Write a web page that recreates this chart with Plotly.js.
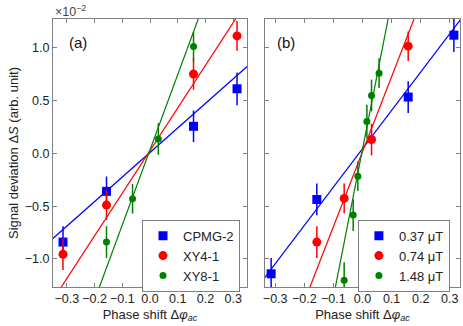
<!DOCTYPE html>
<html>
<head>
<meta charset="utf-8">
<script src="https://cdn.plot.ly/plotly-3.0.1.min.js"></script>
<style>
  html, body { margin: 0; padding: 0; background: #fff; }
  #plot { width: 463px; height: 326px; }
</style>
</head>
<body>
<div id="plot"></div>
<script>
  // panel (a): sequences
  const xCpmgA = [-0.314, -0.157, 0.157, 0.314];
  const yCpmgA = [-0.84, -0.36, 0.255, 0.61];
  const eCpmgA = [0.15, 0.14, 0.15, 0.155];
  const xXy4A = [-0.314, -0.157, 0.157, 0.314];
  const yXy4A = [-0.955, -0.49, 0.75, 1.11];
  const eXy4A = [0.15, 0.14, 0.15, 0.14];
  const xXy8A = [-0.157, -0.063, 0.03, 0.157];
  const yXy8A = [-0.84, -0.43, 0.135, 1.01];
  const eXy8A = [0.15, 0.14, 0.15, 0.14];

  // panel (a): fitted lines (end points)
  const fitCpmgX = [-0.36, 0.36], fitCpmgY = [-0.828, 0.843];
  const fitXy4X = [-0.33, 0.32], fitXy4Y = [-1.305, 1.315];
  const fitXy8X = [-0.19, 0.185], fitXy8Y = [-1.318, 1.348];

  // panel (b): field amplitudes
  const xB1 = [-0.314, -0.157, 0.157, 0.314];
  const yB1 = [-1.14, -0.437, 0.532, 1.117];
  const eB1 = [0.15, 0.15, 0.15, 0.16];
  const xB2 = [-0.157, -0.063, 0.031, 0.157];
  const yB2 = [-0.84, -0.427, 0.13, 1.013];
  const eB2 = [0.15, 0.14, 0.15, 0.14];
  const xB3 = [-0.063, -0.032, -0.016, 0.015, 0.031, 0.057];
  const yB3 = [-1.2, -0.585, -0.217, 0.30, 0.547, 0.758];
  const eB3 = [0.17, 0.15, 0.14, 0.16, 0.15, 0.14];

  const fitB1X = [-0.34, 0.34], fitB1Y = [-1.191, 1.277];
  const fitB2X = [-0.19, 0.19], fitB2Y = [-1.332, 1.362];
  const fitB3X = [-0.095, 0.095], fitB3Y = [-1.292, 1.368];

  const namesA = ['CPMG-2', 'XY4-1', 'XY8-1'];
  const namesB = ['0.37 μT', '0.74 μT', '1.48 μT'];
  const xTicks = [-0.3, -0.2, -0.1, 0.0, 0.1, 0.2, 0.3];
  const yTicks = [-1.0, -0.5, 0.0, 0.5, 1.0];

  const BLUE = '#0000ff', RED = '#ff0000', GREEN = '#008000';

  function pts(x, y, e, name, color, symbol, size, xa, ya, leg) {
    return {
      x: x, y: y, type: 'scatter', mode: 'markers', name: name,
      xaxis: xa, yaxis: ya, legend: leg,
      marker: { color: color, symbol: symbol, size: size },
      error_y: { type: 'data', array: e, visible: true, color: color, thickness: 1.5, width: 0 },
      cliponaxis: true
    };
  }
  function fit(x, y, color, xa, ya) {
    return {
      x: x, y: y, type: 'scatter', mode: 'lines', showlegend: false,
      xaxis: xa, yaxis: ya, line: { color: color, width: 1.2 }, hoverinfo: 'skip'
    };
  }

  const data = [
    fit(fitCpmgX, fitCpmgY, BLUE, 'x', 'y'),
    fit(fitXy4X, fitXy4Y, RED, 'x', 'y'),
    fit(fitXy8X, fitXy8Y, GREEN, 'x', 'y'),
    pts(xCpmgA, yCpmgA, eCpmgA, namesA[0], BLUE, 'square', 9, 'x', 'y', 'legend'),
    pts(xXy4A, yXy4A, eXy4A, namesA[1], RED, 'circle', 9, 'x', 'y', 'legend'),
    pts(xXy8A, yXy8A, eXy8A, namesA[2], GREEN, 'circle', 7, 'x', 'y', 'legend'),
    fit(fitB1X, fitB1Y, BLUE, 'x2', 'y2'),
    fit(fitB2X, fitB2Y, RED, 'x2', 'y2'),
    fit(fitB3X, fitB3Y, GREEN, 'x2', 'y2'),
    pts(xB1, yB1, eB1, namesB[0], BLUE, 'square', 9, 'x2', 'y2', 'legend2'),
    pts(xB2, yB2, eB2, namesB[1], RED, 'circle', 9, 'x2', 'y2', 'legend2'),
    pts(xB3, yB3, eB3, namesB[2], GREEN, 'circle', 7, 'x2', 'y2', 'legend2')
  ];

  const FONT = 'Liberation Sans, Arial, sans-serif';
  const GRAY = '#808080';
  const xTitle = 'Phase shift Δ<i>φ</i><sub><i>ac</i></sub>';

  function xAxis(domain, range, anchor) {
    return {
      domain: domain, range: range, anchor: anchor,
      tickvals: xTicks, tickformat: '.1f',
      ticks: 'inside', ticklen: 4, tickcolor: GRAY, tickwidth: 1,
      showline: true, linecolor: GRAY, linewidth: 1, mirror: 'ticks',
      showgrid: false, zeroline: false,
      tickfont: { size: 12.5, color: '#222' },
      title: { text: xTitle, font: { size: 13, color: '#222' }, standoff: 4 }
    };
  }
  function yAxis(anchor, labels) {
    return {
      domain: [0.1196, 0.9417], range: [-1.265, 1.27], anchor: anchor,
      tickvals: yTicks, tickformat: '.1f', showticklabels: labels,
      ticks: 'inside', ticklen: 4, tickcolor: GRAY, tickwidth: 1,
      showline: true, linecolor: GRAY, linewidth: 1, mirror: 'ticks',
      showgrid: false, zeroline: false,
      tickfont: { size: 12.5, color: '#222' }
    };
  }

  const ya = yAxis('x', true);
  ya.title = { text: 'Signal deviation Δ<i>S</i> (arb. unit)', font: { size: 13, color: '#222' }, standoff: 3 };
  const yb = yAxis('x2', false);
  yb.matches = 'y';

  const legendBase = {
    yanchor: 'top', xanchor: 'left', bgcolor: '#fff',
    bordercolor: GRAY, borderwidth: 1, font: { size: 13, color: '#222' },
    tracegroupgap: 0
  };

  const layout = {
    width: 463, height: 326,
    margin: { l: 0, r: 0, t: 0, b: 0 },
    paper_bgcolor: '#fff', plot_bgcolor: '#fff',
    font: { family: FONT, color: '#222' },
    showlegend: true,
    xaxis: xAxis([0.1145, 0.5335], [-0.35, 0.35], 'y'),
    yaxis: ya,
    xaxis2: xAxis([0.5724, 0.9935], [-0.335, 0.335], 'y2'),
    yaxis2: yb,
    legend: Object.assign({}, legendBase, { x: 0.3067, y: 0.326 }),
    legend2: Object.assign({}, legendBase, { x: 0.773, y: 0.326 }),
    annotations: [
      { text: '(a)', xref: 'paper', yref: 'paper', x: 0.145, y: 0.87, xanchor: 'left', yanchor: 'middle',
        showarrow: false, font: { size: 15, color: '#111' } },
      { text: '(b)', xref: 'paper', yref: 'paper', x: 0.594, y: 0.87, xanchor: 'left', yanchor: 'middle',
        showarrow: false, font: { size: 15, color: '#111' } },
      { text: '×10<sup>−2</sup>', xref: 'paper', yref: 'paper', x: 0.114, y: 0.998, xanchor: 'left', yanchor: 'top',
        showarrow: false, font: { size: 12.5, color: '#444' } }
    ]
  };

  Plotly.newPlot('plot', data, layout, { displayModeBar: false, staticPlot: true });
</script>
</body>
</html>
